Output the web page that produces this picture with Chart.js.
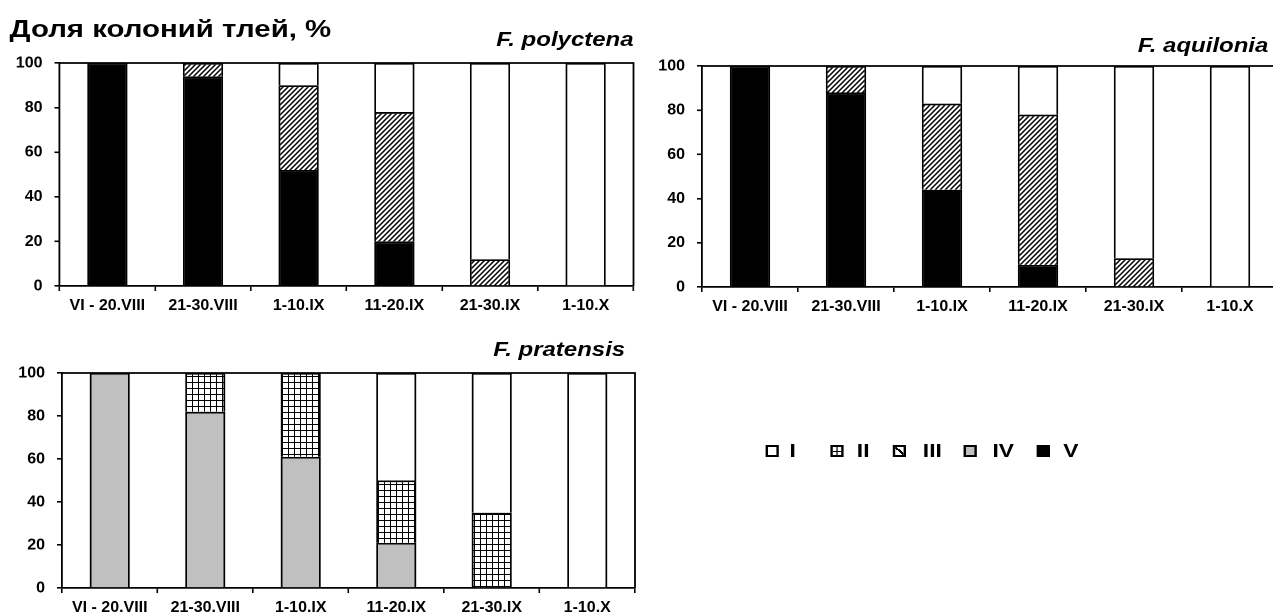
<!DOCTYPE html>
<html>
<head>
<meta charset="utf-8">
<script src="https://cdn.jsdelivr.net/npm/chart.js@4"></script>
<style>
  html, body { margin: 0; padding: 0; background: #fff; overflow: hidden; width: 1273px; height: 615px; }
  body { position: relative; font-family: 'Liberation Sans', Arial, sans-serif; color: #000; }
  .box { position: absolute; }
  #txt { position: absolute; left: 0; top: 0; width: 1080px; height: 615px; transform: scaleX(1.2); transform-origin: 0 0; z-index: 2; pointer-events: none; }
  .title { position: absolute; left: 8px; top: 17px; font-size: 24.5px; font-weight: bold; line-height: 1; white-space: nowrap; }
  .species { position: absolute; left: 0; text-align: right; font-size: 20px; font-weight: bold; font-style: italic; line-height: 1; white-space: nowrap; }
  .lg-box { position: absolute; top: 445px; width: 7px; height: 8px; border: 2px solid #000; background: #fff; }
  .lg-txt { position: absolute; top: 441px; font-size: 19px; font-weight: bold; line-height: 1; }
</style>
</head>
<body>
<div class="box" style="left:0; top:0;"><canvas id="c1" width="640" height="320"></canvas></div>
<div class="box" style="left:640px; top:0;"><canvas id="c2" width="645" height="321"></canvas></div>
<div class="box" style="left:0; top:310px;"><canvas id="c3" width="642" height="312"></canvas></div>

<div id="txt">
  <div class="title">Доля колоний тлей, %</div>
  <div class="species" style="width:528px; top:29px;">F. polyctena</div>
  <div class="species" style="width:1057px; top:35px;">F. aquilonia</div>
  <div class="species" style="width:521px; top:339px;">F. pratensis</div>

  <div class="lg-box" style="left:638px;"></div>
  <div class="lg-txt" style="left:658px;">I</div>
  <div class="lg-box" style="left:692px; background:
      linear-gradient(#000,#000) center / 1px 100% no-repeat,
      linear-gradient(#000,#000) center / 100% 1px no-repeat, #fff;"></div>
  <div class="lg-txt" style="left:714px;">II</div>
  <div class="lg-box" style="left:744px; background: linear-gradient(to top right, #fff 42%, #000 42%, #000 60%, #fff 60%);"></div>
  <div class="lg-txt" style="left:769px;">III</div>
  <div class="lg-box" style="left:803px; background:#c0c0c0;"></div>
  <div class="lg-txt" style="left:827px;">IV</div>
  <div class="lg-box" style="left:864px; background:#000;"></div>
  <div class="lg-txt" style="left:886px;">V</div>
</div>

<script>
// periods (x categories)
const categories = ['VI - 20.VIII', '21-30.VIII', '1-10.IX', '11-20.IX', '21-30.IX', '1-10.X'];

// F. polyctena, % of colonies by stage
const polyV   = [100, 94, 52, 20, 0, 0];
const polyIII = [0, 6, 38, 58, 12, 0];
const polyI   = [0, 0, 10, 22, 88, 100];

// F. aquilonia
const aquiV   = [100, 88, 44, 10, 0, 0];
const aquiIII = [0, 12, 39, 68, 13, 0];
const aquiI   = [0, 0, 17, 22, 87, 100];

// F. pratensis
const pratIV  = [100, 82, 61, 21, 0, 0];
const pratII  = [0, 18, 39, 29, 35, 0];
const pratI   = [0, 0, 0, 50, 65, 100];

const yTicks = [0, 20, 40, 60, 80, 100];

// fill patterns, tile drawn at 2x then scaled down
function diagPattern() {
  const c = document.createElement('canvas');
  c.width = 10; c.height = 10;
  const g = c.getContext('2d');
  g.fillStyle = '#fff';
  g.fillRect(0, 0, 10, 10);
  g.strokeStyle = '#000';
  g.lineWidth = 3;
  g.beginPath();
  g.moveTo(-5, 5); g.lineTo(5, -5);
  g.moveTo(0, 10); g.lineTo(10, 0);
  g.moveTo(5, 15); g.lineTo(15, 5);
  g.stroke();
  const p = g.createPattern(c, 'repeat');
  p.setTransform(new DOMMatrix().scale(0.5));
  return p;
}

function gridPattern() {
  const c = document.createElement('canvas');
  c.width = 12; c.height = 12;
  const g = c.getContext('2d');
  g.fillStyle = '#fff';
  g.fillRect(0, 0, 12, 12);
  g.fillStyle = '#000';
  g.fillRect(0, 0, 2, 12);
  g.fillRect(0, 0, 12, 2);
  const p = g.createPattern(c, 'repeat');
  p.setTransform(new DOMMatrix().scale(0.5));
  return p;
}

const fills = {
  I: '#ffffff',
  II: gridPattern(),
  III: diagPattern(),
  IV: '#c0c0c0',
  V: '#000000'
};

const frame = {
  id: 'frame',
  afterDatasetsDraw(chart) {
    const {ctx, chartArea: a} = chart;
    ctx.save();
    ctx.strokeStyle = '#000';
    ctx.lineWidth = 1.8;
    ctx.beginPath();
    ctx.moveTo(a.left, a.top);
    ctx.lineTo(a.right, a.top);
    ctx.lineTo(a.right, a.bottom);
    ctx.stroke();
    ctx.restore();
  }
};

function ds(name, values) {
  return {
    label: name,
    data: values,
    backgroundColor: fills[name],
    borderColor: '#000',
    borderWidth: 1.8,
    categoryPercentage: 1,
    barPercentage: 0.42
  };
}

const tickFont = { family: 'Liberation Sans', size: 16, weight: 'bold' };

function makeChart(id, datasets, pad) {
  return new Chart(document.getElementById(id), {
    type: 'bar',
    data: { labels: categories, datasets: datasets },
    plugins: [frame],
    options: {
      responsive: false,
      animation: false,
      devicePixelRatio: 2,
      layout: { padding: pad },
      plugins: { legend: { display: false }, tooltip: { enabled: false } },
      scales: {
        x: {
          stacked: true,
          afterFit: s => { s.height = 34; },
          grid: { drawOnChartArea: false, offset: true, tickLength: 5, color: '#000', lineWidth: 1.6 },
          border: { color: '#000', width: 1.8 },
          ticks: { color: '#000', padding: 5, maxRotation: 0, font: tickFont }
        },
        y: {
          stacked: true,
          min: 0,
          max: 100,
          afterFit: s => { s.width = 50; },
          afterBuildTicks: s => { s.ticks = yTicks.map(v => ({ value: v })); },
          grid: { drawOnChartArea: false, tickLength: 5, color: '#000', lineWidth: 1.6 },
          border: { color: '#000', width: 1.8 },
          ticks: { color: '#000', padding: 12, font: tickFont }
        }
      }
    }
  });
}

makeChart('c1', [ds('V', polyV), ds('III', polyIII), ds('I', polyI)],
  { left: 9.5, right: 6.5, top: 63, bottom: 0 });
makeChart('c2', [ds('V', aquiV), ds('III', aquiIII), ds('I', aquiI)],
  { left: 12, right: 7, top: 66, bottom: 0 });
makeChart('c3', [ds('IV', pratIV), ds('II', pratII), ds('I', pratI)],
  { left: 12, right: 7, top: 63, bottom: 0 });
</script>
</body>
</html>
